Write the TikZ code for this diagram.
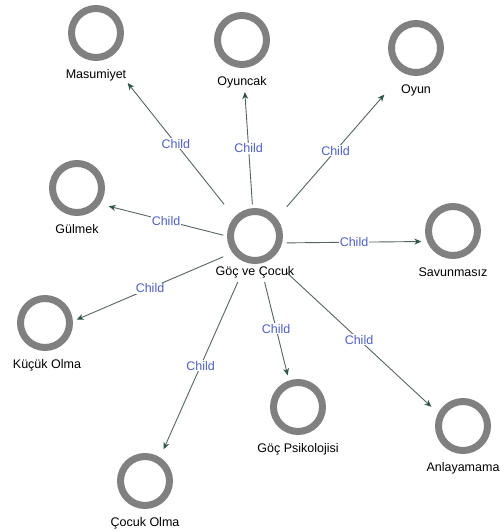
\documentclass[tikz,border=0pt]{standalone}
\usepackage{fontspec}
\setmainfont{Liberation Sans}
\usetikzlibrary{arrows.meta, positioning, fit}
\definecolor{ringgray}{RGB}{128,128,128}
\definecolor{edgegray}{RGB}{84,100,96}
\definecolor{tipgreen}{RGB}{44,84,72}
\definecolor{childblue}{RGB}{78,96,196}
\tikzstyle{ring} = [circle, draw=ringgray, line width=7pt, minimum size=49pt, inner sep=0pt]
\tikzstyle{vlabel} = [font=\fontsize{12.5}{14}\selectfont, inner sep=0pt, text height=9pt, text depth=3pt]
\tikzstyle{vbox} = [inner sep=3.5pt, draw=none]
\tikzstyle{childarrow} = [-{Stealth[length=7pt, width=6pt, color=tipgreen]}, draw=edgegray, line width=0.9pt]
\tikzstyle{childlbl} = [font=\fontsize{12.5}{14}\selectfont, text=childblue, fill=white, inner sep=1pt]

\begin{document}
\begin{tikzpicture}[x=1pt, y=-1pt]
    \useasboundingbox (0,0) rectangle (501,531);
    % circles
    \node[ring] (goc-c) at (255,236) {};
    \node[ring] (masum-c) at (96,33) {};
    \node[ring] (oyuncak-c) at (242,40) {};
    \node[ring] (oyun-c) at (416,48) {};
    \node[ring] (gulmek-c) at (77,188) {};
    \node[ring] (savun-c) at (453,231) {};
    \node[ring] (kucuk-c) at (45,323) {};
    \node[ring] (psik-c) at (298,407) {};
    \node[ring] (anlay-c) at (463,426) {};
    \node[ring] (cocuk-c) at (145,481) {};
    % labels
    \node[vlabel, below=2pt of goc-c] (goc-t) {Göç ve Çocuk};
    \node[vlabel, below=8pt of masum-c] (masum-t) {Masumiyet};
    \node[vlabel, below=8pt of oyuncak-c] (oyuncak-t) {Oyuncak};
    \node[vlabel, below=8pt of oyun-c] (oyun-t) {Oyun};
    \node[vlabel, below=8pt of gulmek-c] (gulmek-t) {Gülmek};
    \node[vlabel, below=8pt of savun-c] (savun-t) {Savunmasız};
    \node[vlabel, below=8pt of kucuk-c, xshift=2pt] (kucuk-t) {Küçük Olma};
    \node[vlabel, below=8pt of psik-c] (psik-t) {Göç Psikolojisi};
    \node[vlabel, below=8pt of anlay-c] (anlay-t) {Anlayamama};
    \node[vlabel, below=8pt of cocuk-c] (cocuk-t) {Çocuk Olma};
    % boxes round circle and label
    \foreach \v in {goc, masum, oyuncak, oyun, gulmek, savun, kucuk, psik, anlay, cocuk}
        \node[vbox, fit=(\v-c.north)(\v-c.west)(\v-c.east)(\v-t.south)] (\v) {};
    % edges
    \draw[childarrow] (goc) -- node[childlbl]{Child} (masum);
    \draw[childarrow] (goc) -- node[childlbl]{Child} (oyuncak);
    \draw[childarrow] (goc) -- node[childlbl]{Child} (oyun);
    \draw[childarrow] (goc) -- node[childlbl]{Child} (gulmek);
    \draw[childarrow] (goc) -- node[childlbl]{Child} (savun);
    \draw[childarrow] (goc) -- node[childlbl]{Child} (kucuk);
    \draw[childarrow] (goc) -- node[childlbl]{Child} (psik);
    \draw[childarrow] (goc) -- node[childlbl]{Child} (anlay);
    \draw[childarrow] (goc) -- node[childlbl]{Child} (cocuk);
\end{tikzpicture}
\end{document}
